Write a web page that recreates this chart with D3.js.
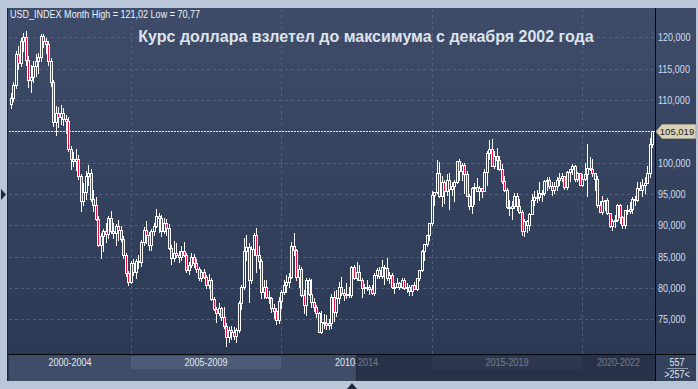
<!DOCTYPE html>
<html>
<head>
<meta charset="utf-8">
<script src="https://cdnjs.cloudflare.com/ajax/libs/d3/7.8.5/d3.min.js"></script>
<style>
  html, body { margin: 0; padding: 0; background: #b9c7d8; }
  svg { display: block; font-family: "Liberation Sans", Arial, sans-serif; }
  .ui { font-family: "Liberation Sans", Arial, sans-serif; font-size: 11px; }
  .tagtext { font-family: "Liberation Sans", Arial, sans-serif; font-size: 9.5px; }
</style>
</head>
<body>
<script>
// USD_INDEX, monthly candles, Jan 2001 .. May 2022
const firstMonth = "2001-01";

const open = [
  109.4,110.3,112.4,117.3,115.9,119.5,120.0,116.4,113.2,113.6,115.5,116.3,
  116.8,120.2,119.4,119.0,116.2,112.8,106.5,107.9,107.3,108.0,107.0,106.7,
  102.2,100.6,100.3,100.6,97.8,93.8,95.3,97.8,98.3,94.2,93.2,91.0,
  86.9,88.3,89.0,88.6,91.2,89.1,88.7,89.9,89.2,87.8,85.2,82.3,
  81.0,84.0,82.5,84.3,84.1,87.3,89.2,88.4,86.8,89.0,89.9,91.5,
  91.2,89.0,90.3,89.6,86.4,84.8,85.5,85.3,85.0,85.9,85.3,82.9,
  83.7,84.9,83.9,83.0,81.6,82.6,81.8,80.5,81.3,78.2,76.6,75.9,
  76.7,75.3,73.9,72.1,73.2,72.9,72.3,73.3,77.5,80.1,85.9,86.5,
  81.3,86.2,88.4,85.2,84.3,79.4,80.1,78.5,78.3,76.8,76.3,74.8,
  77.9,79.4,80.4,81.0,81.8,86.6,86.0,81.7,83.0,78.8,77.2,81.3,
  79.0,77.7,76.9,75.9,73.0,74.6,74.3,74.0,74.3,78.5,76.2,78.3,
  80.2,79.1,78.9,79.0,78.8,83.3,81.6,82.5,81.2,79.9,80.2,80.1,
  79.8,79.2,82.1,82.9,81.9,83.3,83.2,81.6,82.1,80.2,80.2,80.7,
  80.2,81.3,79.9,80.1,79.5,80.4,79.8,81.5,82.8,85.9,87.0,88.4,
  90.3,94.8,95.3,98.4,94.6,96.9,95.5,97.3,95.8,96.3,96.9,100.2,
  98.6,99.6,98.2,94.6,93.1,95.9,96.1,95.5,96.0,95.4,98.5,101.5,
  102.2,99.5,101.1,100.4,99.0,97.0,95.6,92.9,92.7,93.1,94.6,93.1,
  92.1,89.1,90.6,90.1,91.8,94.0,94.5,94.5,95.1,95.1,97.1,97.3,
  96.2,95.6,96.2,97.3,97.5,97.8,96.1,98.5,98.9,99.4,97.4,98.3,
  96.4,97.4,98.1,99.1,99.0,98.3,97.4,93.3,92.1,93.9,94.0,91.9,
  89.9,90.6,90.9,93.2,91.3,90.0,92.4,92.2,92.6,94.2,94.1,96.0,
  95.7,96.5,96.7,98.3,103.0
];
const high = [
  111.1,112.9,117.8,118.6,119.9,120.7,121.02,117.0,115.6,116.3,117.4,117.5,
  120.5,120.6,119.9,119.4,116.7,113.2,109.1,108.9,109.2,108.7,107.6,107.3,
  102.6,101.7,102.1,101.2,98.2,96.8,98.6,99.6,98.9,95.6,94.5,91.5,
  88.8,89.4,90.3,91.5,92.3,90.3,90.2,90.9,89.8,88.3,85.6,82.7,
  84.3,84.6,84.6,85.2,87.6,89.7,90.6,88.9,89.4,90.4,92.6,92.0,
  91.6,91.1,91.0,90.2,86.8,87.4,87.1,85.9,86.6,87.3,85.6,84.2,
  85.5,85.4,84.6,83.3,82.9,83.0,82.0,82.2,81.6,78.6,77.0,77.5,
  76.9,77.0,74.3,73.8,73.9,73.7,73.6,77.9,80.4,87.9,88.4,87.2,
  86.6,88.8,89.6,86.6,84.6,81.2,81.2,79.5,78.5,77.4,76.7,78.5,
  79.6,81.3,82.0,82.4,87.3,88.7,86.2,83.6,83.4,79.6,81.6,81.5,
  81.4,78.4,77.2,76.1,76.3,75.8,75.6,75.0,79.0,79.5,79.7,81.0,
  81.8,79.8,80.7,80.2,83.5,83.7,84.1,83.6,81.6,80.6,81.2,80.4,
  80.5,82.4,83.2,83.3,84.5,83.7,84.8,82.6,82.4,80.7,81.5,81.0,
  81.5,81.6,80.8,80.5,80.5,81.0,81.5,82.8,86.0,87.0,88.5,90.3,
  95.5,95.3,100.4,100.1,97.9,97.3,98.1,98.3,96.9,97.2,100.2,100.5,
  99.9,99.9,98.6,95.0,96.1,96.7,97.6,96.2,96.0,98.9,101.8,103.6,
  103.8,101.8,102.3,101.0,99.7,97.8,96.0,94.1,93.9,95.2,95.2,94.2,
  92.4,91.0,90.9,91.9,95.0,95.5,95.6,96.9,95.7,97.2,97.7,97.7,
  96.9,96.9,97.7,98.3,98.4,97.9,98.7,99.0,99.7,99.6,98.5,98.4,
  98.2,99.9,103.0,100.9,100.5,98.4,97.8,93.9,94.7,94.1,94.3,92.0,
  91.0,91.6,93.4,93.4,91.4,92.4,93.2,93.7,94.5,94.6,96.9,96.9,
  97.4,97.7,99.4,103.9,105.1
];
const low = [
  108.7,109.8,111.9,115.0,115.5,117.8,115.6,112.1,111.3,112.9,113.9,114.3,
  116.3,118.4,117.5,115.6,112.3,105.9,104.4,105.7,106.1,106.0,104.8,101.8,
  99.0,99.4,98.8,97.4,92.2,93.2,94.2,96.4,93.9,92.3,90.9,86.6,
  84.8,85.9,87.3,87.9,88.8,87.9,86.8,87.6,87.4,84.7,81.9,80.4,
  80.7,82.0,81.5,83.1,83.5,86.9,87.2,86.1,86.1,88.4,89.7,88.9,
  88.3,88.7,88.5,86.2,83.8,84.3,84.9,84.1,84.5,85.1,82.6,82.2,
  83.4,83.4,82.6,81.3,81.1,81.6,80.0,80.0,78.1,76.4,74.5,75.6,
  74.8,73.6,70.77,71.3,71.8,71.8,71.3,72.9,76.6,79.8,84.4,77.7,
  80.8,85.3,82.6,83.1,78.3,78.3,78.3,77.5,76.1,75.2,74.2,74.3,
  76.8,79.0,79.3,80.1,81.6,85.3,81.3,80.1,78.7,75.9,75.7,78.9,
  76.9,76.3,75.3,72.9,72.7,73.6,73.4,73.4,73.6,74.7,75.5,77.6,
  78.8,78.1,78.4,78.6,78.6,81.4,81.3,81.2,78.6,79.1,79.7,79.0,
  79.0,78.9,81.6,81.6,81.6,80.6,81.3,80.8,79.9,79.1,80.1,79.8,
  79.9,79.8,79.4,78.9,78.9,79.8,79.7,81.2,82.7,84.5,86.6,87.6,
  90.1,93.2,95.1,94.5,93.1,93.6,94.8,92.6,94.8,93.8,96.8,97.2,
  97.3,95.2,94.6,92.6,91.9,93.4,95.4,94.1,94.5,95.4,96.5,100.5,
  99.4,99.2,98.9,98.8,96.8,95.5,92.8,91.6,91.0,92.7,92.5,91.9,
  88.4,88.2,88.9,89.2,91.8,93.2,93.7,94.1,93.8,94.8,95.7,95.9,
  94.9,95.2,95.7,96.5,97.1,95.8,95.8,97.0,98.1,97.1,97.1,96.4,
  96.2,97.3,94.6,98.8,97.8,95.7,92.9,92.1,91.8,92.5,91.8,89.7,
  89.2,89.7,90.6,90.4,89.5,89.5,91.8,92.0,91.9,93.3,93.9,95.6,
  94.6,95.1,96.7,97.7,102.5
];
const close = [
  110.3,112.4,117.3,115.9,119.5,120.0,116.4,113.2,113.6,115.5,116.3,116.8,
  120.2,119.4,119.0,116.2,112.8,106.5,107.9,107.3,108.0,107.0,106.7,102.2,
  100.6,100.3,100.6,97.8,93.8,95.3,97.8,98.3,94.2,93.2,91.0,86.9,
  88.3,89.0,88.6,91.2,89.1,88.7,89.9,89.2,87.8,85.2,82.3,81.0,
  84.0,82.5,84.3,84.1,87.3,89.2,88.4,86.8,89.0,89.9,91.5,91.2,
  89.0,90.3,89.6,86.4,84.8,85.5,85.3,85.0,85.9,85.3,82.9,83.7,
  84.9,83.9,83.0,81.6,82.6,81.8,80.5,81.3,78.2,76.6,75.9,76.7,
  75.3,73.9,72.1,73.2,72.9,72.3,73.3,77.5,80.1,85.9,86.5,81.3,
  86.2,88.4,85.2,84.3,79.4,80.1,78.5,78.3,76.8,76.3,74.8,77.9,
  79.4,80.4,81.0,81.8,86.6,86.0,81.7,83.0,78.8,77.2,81.3,79.0,
  77.7,76.9,75.9,73.0,74.6,74.3,74.0,74.3,78.5,76.2,78.3,80.2,
  79.1,78.9,79.0,78.8,83.3,81.6,82.5,81.2,79.9,80.2,80.1,79.8,
  79.2,82.1,82.9,81.9,83.3,83.2,81.6,82.1,80.2,80.2,80.7,80.2,
  81.3,79.9,80.1,79.5,80.4,79.8,81.5,82.8,85.9,87.0,88.4,90.3,
  94.8,95.3,98.4,94.6,96.9,95.5,97.3,95.8,96.3,96.9,100.2,98.6,
  99.6,98.2,94.6,93.1,95.9,96.1,95.5,96.0,95.4,98.5,101.5,102.2,
  99.5,101.1,100.4,99.0,97.0,95.6,92.9,92.7,93.1,94.6,93.1,92.1,
  89.1,90.6,90.1,91.8,94.0,94.5,94.5,95.1,95.1,97.1,97.3,96.2,
  95.6,96.2,97.3,97.5,97.8,96.1,98.5,98.9,99.4,97.4,98.3,96.4,
  97.4,98.1,99.1,99.0,98.3,97.4,93.3,92.1,93.9,94.0,91.9,89.9,
  90.6,90.9,93.2,91.3,90.0,92.4,92.2,92.6,94.2,94.1,96.0,95.7,
  96.5,96.7,98.3,103.0,105.019
];

const yTicks = [75, 80, 85, 90, 95, 100, 105, 110, 115, 120];
const periods = ["2000-2004", "2005-2009", "2010-2014", "2015-2019", "2020-2022"];
const periodStart = [-1, 48, 108, 168, 228];   // first bar of each period

const headerText = "USD_INDEX Month High = 121,02 Low = 70,77";
const titleText = "Курс доллара взлетел до максимума с декабря 2002 года";
const barsTotal = "557";
const barsShown = ">257<";

const W = 698, H = 389;
const plotL = 9, plotR = 655, plotT = 9, plotB = 354;

const fmt = d3.formatLocale({ decimal: ",", thousands: " ", grouping: [3] }).format(".3f");

const x = d3.scaleLinear().domain([0, close.length - 1]).range([10.7, 652.2]);
const y = d3.scaleLinear().domain([75, 120]).range([319.1, 37.4]);

const last = close[close.length - 1];
const yLast = Math.round(y(last)) + 0.5;

const svg = d3.select("body").append("svg")
  .attr("width", W)
  .attr("height", H);

const defs = svg.append("defs");
const grad = defs.append("linearGradient")
  .attr("id", "bg")
  .attr("gradientUnits", "userSpaceOnUse")
  .attr("x1", 0).attr("y1", 8).attr("x2", 0).attr("y2", 381);
grad.append("stop").attr("offset", 0).attr("stop-color", "#3e4c69");
grad.append("stop").attr("offset", 1).attr("stop-color", "#2b3853");

// frame and panel
svg.append("rect").attr("width", W).attr("height", H).attr("fill", "#b9c7d8");
svg.append("rect")
  .attr("x", 8).attr("y", 8).attr("width", 688).attr("height", 373)
  .attr("fill", "url(#bg)");
svg.append("line")
  .attr("x1", 7.5).attr("x2", 7.5).attr("y1", 8).attr("y2", 381)
  .attr("stroke", "#1e2a3c");

// grid
const grid = svg.append("g").attr("stroke", "#58668a").attr("stroke-dasharray", "3,3").attr("opacity", 0.8);
grid.selectAll("line.h")
  .data(yTicks)
  .join("line")
  .attr("class", "h")
  .attr("x1", plotL).attr("x2", plotR)
  .attr("y1", d => Math.round(y(d)) + 0.5)
  .attr("y2", d => Math.round(y(d)) + 0.5);
grid.selectAll("line.v")
  .data(periodStart.filter(d => d >= 0))
  .join("line")
  .attr("class", "v")
  .attr("y1", plotT).attr("y2", plotB)
  .attr("x1", d => Math.round(x(d)) + 0.5)
  .attr("x2", d => Math.round(x(d)) + 0.5);

// candles
const bars = svg.append("g")
  .attr("shape-rendering", "crispEdges")
  .selectAll("g")
  .data(d3.range(close.length))
  .join("g");

bars.append("line")
  .attr("x1", i => Math.round(x(i)) + 0.5)
  .attr("x2", i => Math.round(x(i)) + 0.5)
  .attr("y1", i => Math.round(y(high[i])))
  .attr("y2", i => Math.round(y(low[i])) + 1)
  .attr("stroke", "#ffffff");

bars.append("rect")
  .attr("x", i => Math.round(x(i)) - 0.5)
  .attr("width", 2)
  .attr("y", i => Math.round(y(Math.max(open[i], close[i]))) + 0.5)
  .attr("height", i => Math.max(1, Math.round(y(Math.min(open[i], close[i]))) - Math.round(y(Math.max(open[i], close[i])))))
  .attr("fill", i => close[i] >= open[i] ? "url(#bg)" : "#e8103a")
  .attr("stroke", "#ffffff");

// current price line
svg.append("line")
  .attr("x1", plotL).attr("x2", plotR)
  .attr("y1", yLast).attr("y2", yLast)
  .attr("stroke", "#e8e8e8")
  .attr("stroke-dasharray", "2,1");

// right axis (the label under the price tag is hidden by it)
const axisTicks = yTicks.filter(v => Math.abs(y(v) - y(last)) > 8);
const axis = svg.append("g")
  .attr("transform", `translate(656,0)`)
  .call(d3.axisRight(y).tickValues(axisTicks).tickSize(0).tickPadding(2).tickFormat(fmt));
axis.select(".domain").remove();
axis.attr("font-family", null).attr("font-size", null);
axis.selectAll("text")
  .attr("class", "ui")
  .attr("fill", "#d3deec");

// price tag
const tag = svg.append("g");
tag.append("polygon")
  .attr("points", `656,${yLast} 662,${yLast - 7} 696,${yLast - 7} 696,${yLast + 7} 662,${yLast + 7}`)
  .attr("fill", "#d8d4ba")
  .attr("stroke", "#a4a28e");
tag.append("text")
  .attr("class", "tagtext")
  .attr("x", 677).attr("y", yLast + 3.5)
  .attr("text-anchor", "middle")
  .attr("fill", "#1c1c1c")
  .text(fmt(last));

// separators
svg.append("line")
  .attr("x1", 655.5).attr("x2", 655.5).attr("y1", 8).attr("y2", 381)
  .attr("stroke", "#05070c");
svg.append("line")
  .attr("x1", 8).attr("x2", 696).attr("y1", 354.5).attr("y2", 354.5)
  .attr("stroke", "#05070c");

// navigator bar
const nav = svg.append("g");
nav.append("rect")
  .attr("x", plotL).attr("y", 355).attr("width", plotR - plotL).attr("height", 26)
  .attr("fill", "#3f4d69");
const bounds = periodStart.map(d => d < 0 ? plotL : Math.round(x(d))).concat([plotR]);
nav.selectAll("rect.seg")
  .data(periods.map((p, k) => k).filter(k => k % 2 === 1))
  .join("rect")
  .attr("class", "seg")
  .attr("x", k => bounds[k])
  .attr("width", k => bounds[k + 1] - bounds[k])
  .attr("y", 356).attr("height", 13)
  .attr("fill", "#4c5b78");
nav.selectAll("text")
  .data(periods)
  .join("text")
  .attr("class", "ui")
  .attr("x", (d, k) => (bounds[k] + bounds[k + 1]) / 2)
  .attr("y", 366)
  .attr("text-anchor", "middle")
  .attr("fill", "#e2e8f0")
  .text(d => d);
nav.append("rect")
  .attr("x", 356).attr("y", 355).attr("width", plotR - 356).attr("height", 26)
  .attr("fill", "#141c30")
  .attr("opacity", 0.55);
nav.append("line")
  .attr("x1", 356.5).attr("x2", 356.5).attr("y1", 355).attr("y2", 381)
  .attr("stroke", "#222b3e");

// bar counter
svg.append("rect")
  .attr("x", 656).attr("y", 355).attr("width", 40).attr("height", 26)
  .attr("fill", "#34425e");
svg.append("text")
  .attr("class", "ui")
  .attr("x", 677).attr("y", 366)
  .attr("text-anchor", "middle").attr("fill", "#dfe5ee")
  .text(barsTotal);
svg.append("line")
  .attr("x1", 667).attr("x2", 688).attr("y1", 368.5).attr("y2", 368.5)
  .attr("stroke", "#8d98ab");
svg.append("text")
  .attr("class", "ui")
  .attr("x", 677).attr("y", 378)
  .attr("text-anchor", "middle").attr("fill", "#dfe5ee")
  .text(barsShown);

// header and title
svg.append("text")
  .attr("class", "ui")
  .attr("x", 10).attr("y", 18)
  .attr("fill", "#eef2f8")
  .text(headerText);
svg.append("text")
  .attr("x", 366).attr("y", 42)
  .attr("text-anchor", "middle")
  .attr("font-size", 16)
  .attr("font-weight", "bold")
  .attr("fill", "#dde2ea")
  .text(titleText);

// the terminal font is narrower than Liberation Sans: squeeze the small texts
svg.selectAll("text.ui").each(function() {
  const w = this.getComputedTextLength();
  d3.select(this)
    .attr("textLength", (w * 0.82).toFixed(1))
    .attr("lengthAdjust", "spacingAndGlyphs");
});

// scroll markers
svg.append("polygon").attr("points", "1,189 6,194.5 1,200").attr("fill", "#1b283d");
svg.append("polygon").attr("points", "347,389 352,383 357,389").attr("fill", "#1b283d");
</script>
</body>
</html>
